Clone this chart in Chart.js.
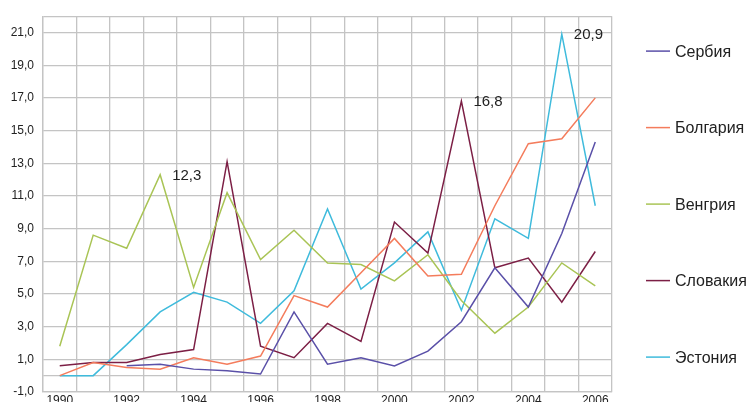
<!DOCTYPE html>
<html>
<head>
<meta charset="utf-8">
<script src="https://cdn.jsdelivr.net/npm/chart.js@4/dist/chart.umd.min.js"></script>
<style>
html,body{margin:0;padding:0;background:#fff;overflow:hidden;}
#wrap{width:749px;height:412px;}
</style>
</head>
<body>
<div id="wrap"><canvas id="c" width="749" height="412"></canvas></div>
<script>
const years = ['1990','1991','1992','1993','1994','1995','1996','1997','1998','1999','2000','2001','2002','2003','2004','2005','2006'];
const seriesNames = ['Сербия','Болгария','Венгрия','Словакия','Эстония'];
const serbia   = [null,null,0.6,0.7,0.4,0.3,0.1,3.9,0.7,1.1,0.6,1.5,3.3,6.6,4.2,8.7,14.3];
const bulgaria = [0.0,0.8,0.5,0.4,1.1,0.7,1.2,4.9,4.2,6.3,8.4,6.1,6.2,10.4,14.2,14.5,17.0];
const hungary  = [1.8,8.6,7.8,12.3,5.4,11.2,7.1,8.9,6.9,6.8,5.8,7.4,4.6,2.6,4.2,6.9,5.5];
const slovakia = [0.6,0.8,0.8,1.3,1.6,13.1,1.8,1.1,3.2,2.1,9.4,7.5,16.8,6.6,7.2,4.5,7.6];
const estonia  = [0.0,0.0,1.9,3.9,5.1,4.5,3.2,5.2,10.2,5.3,6.9,8.8,4.0,9.6,8.4,20.9,10.4];
const yTicks = [-1,0,1,3,5,7,9,11,13,15,17,19,21,22];
const yLabelled = [-1,1,3,5,7,9,11,13,15,17,19,21];
const annotated = [{series:'Венгрия', year:'1993'},{series:'Словакия', year:'2002'},{series:'Эстония', year:'2005'}];

const colors = ['#5a50a8','#f47c5c','#a9c455','#7c1f45','#3fbbdc'];
const allData = [serbia,bulgaria,hungary,slovakia,estonia];
const FONT = "'Liberation Sans Narrow','Arial Narrow','Liberation Sans',Arial,sans-serif";
const fmt = v => v.toFixed(1).replace('.', ',');

const datasets = seriesNames.map((n,i)=>({
  label:n, data:allData[i], borderColor:colors[i], backgroundColor:colors[i],
  borderWidth:1.5, pointRadius:0, tension:0, spanGaps:false
}));

const valueLabels = {
  id:'valueLabels',
  afterDatasetsDraw(chart){
    const ctx = chart.ctx;
    ctx.save();
    ctx.font = "15px " + FONT;
    ctx.fillStyle = '#222';
    ctx.textBaseline = 'middle';
    ctx.textAlign = 'left';
    annotated.forEach(a=>{
      const di = seriesNames.indexOf(a.series);
      const idx = years.indexOf(a.year);
      const el = chart.getDatasetMeta(di).data[idx];
      ctx.fillText(fmt(chart.data.datasets[di].data[idx]), el.x + 12, el.y + 1);
    });
    ctx.restore();
  }
};

const sideLegend = {
  id:'sideLegend',
  afterDraw(chart){
    const ctx = chart.ctx;
    const ca = chart.chartArea;
    const mid = (ca.top + ca.bottom)/2;
    const step = 76.5;
    ctx.save();
    ctx.font = "16px " + FONT;
    ctx.textBaseline = 'middle';
    ctx.textAlign = 'left';
    chart.data.datasets.forEach((ds,i)=>{
      const y = mid + (i-2)*step;
      ctx.strokeStyle = ds.borderColor;
      ctx.lineWidth = 1.5;
      ctx.beginPath();
      ctx.moveTo(ca.right + 34, y);
      ctx.lineTo(ca.right + 58, y);
      ctx.stroke();
      ctx.fillStyle = '#222';
      ctx.fillText(ds.label, ca.right + 63, y + 1);
    });
    ctx.restore();
  }
};

new Chart(document.getElementById('c'), {
  type:'line',
  data:{labels:years, datasets},
  options:{
    responsive:false, animation:false, devicePixelRatio:1,
    layout:{padding:{top:10,right:137,left:0,bottom:0}},
    plugins:{legend:{display:false}, tooltip:{enabled:false}},
    scales:{
      x:{
        offset:true,
        grid:{offset:true, color:'#c4c4c4', lineWidth:1.3, drawTicks:false},
        border:{color:'#c4c4c4', width:1.3},
        ticks:{autoSkip:false, maxRotation:0, padding:1, color:'#222',
          font:{family:FONT, size:12},
          callback:function(v,i){ return i % 2 === 0 ? years[i] : ''; }},
        afterFit(s){ s.height = 20; }
      },
      y:{
        min:-1, max:22,
        grid:{color:'#c4c4c4', lineWidth:1.3, drawTicks:false},
        border:{color:'#c4c4c4', width:1.3},
        afterBuildTicks(s){ s.ticks = yTicks.map(v=>({value:v})); },
        ticks:{padding:9, color:'#222', font:{family:FONT, size:12},
          callback:v => yLabelled.includes(v) ? fmt(v) : ''},
        afterFit(s){ s.width = 43; }
      }
    }
  },
  plugins:[valueLabels, sideLegend]
});
</script>
</body>
</html>
